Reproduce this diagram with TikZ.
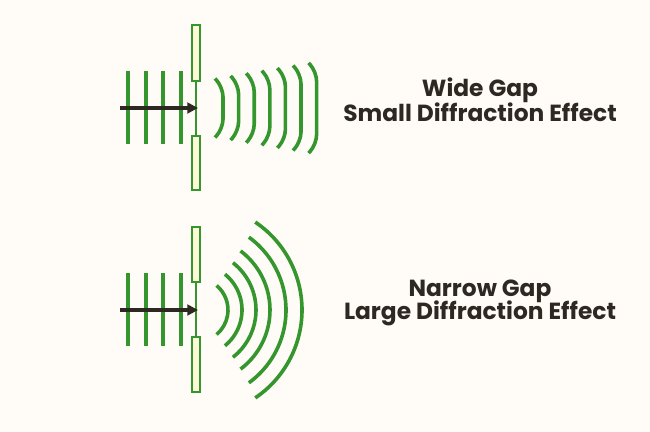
\documentclass[tikz,border=0pt]{standalone}
\usepackage{fontspec}
\setmainfont{Poppins}
\usetikzlibrary{arrows.meta}
\definecolor{wavegreen}{RGB}{52,150,45}
\definecolor{slitfill}{RGB}{253,249,214}
\definecolor{inkbrown}{RGB}{45,40,34}
\definecolor{paper}{RGB}{255,252,248}
\tikzset{
  wave/.style={color=wavegreen, line width=2.7pt},
  slit/.style={draw=wavegreen, fill=slitfill, line width=1.1pt},
  gapline/.style={color=wavegreen, line width=1.2pt},
  ray/.style={color=inkbrown, line width=2.7pt, -{Triangle[length=8pt,width=8pt]}},
  caption/.style={color=inkbrown, font=\bfseries\fontsize{17.5}{21}\selectfont, inner sep=0pt}
}
\begin{document}
\begin{tikzpicture}[x=0.75pt,y=0.75pt,yscale=-1]
\fill [paper] (0,0) rectangle (650,432);
\useasboundingbox (0,0) rectangle (650,432);

% Wide gap
\draw [gapline] (196,81) -- (196,136) ;
\foreach \x in {128,146,163,181}
  \draw [wave] (\x,71) -- (\x,144) ;
\foreach \i in {0,...,6} {
  \pgfmathsetmacro{\xl}{215+15.6*\i}
  \pgfmathsetmacro{\h}{29.5+2.6*\i}
  \draw [wave, rounded corners=7pt] (\xl,108-\h) -- (\xl+8,108-\h+9) -- (\xl+8,108+\h-9) -- (\xl,108+\h) ;
}
\draw [slit] (192,25) rectangle (200,81) ;
\draw [slit] (192,136) rectangle (200,190) ;
\coordinate (wideTail) at (120,108);
\coordinate (wideHead) at (198,108);
\draw [ray] (wideTail) -- (wideHead) ;

% Narrow gap
\draw [gapline] (196,282) -- (196,337) ;
\foreach \x in {128,146,163,181}
  \draw [wave] (\x,273) -- (\x,346) ;
\foreach \r/\a in {32/50,46/51,60/52,74/53,90/54,106/56}
  \draw [wave] ([shift={(-\a:\r)}]196,310) arc [start angle=-\a, end angle=\a, radius=\r*0.75pt] ;
\draw [slit] (192,227) rectangle (200,282) ;
\draw [slit] (192,337) rectangle (200,392) ;
\coordinate (narrowTail) at (120,310);
\coordinate (narrowHead) at (198,310);
\draw [ray] (narrowTail) -- (narrowHead) ;

% Text Node
\node [caption] (wideTitle) at (480,90) {Wide Gap};
\node [caption] (wideNote) at (480,112) {Small Diffraction Effect};
\node [caption] (narrowTitle) at (480,291) {Narrow Gap};
\node [caption] (narrowNote) at (480,313) {Large Diffraction Effect};
\end{tikzpicture}
\end{document}
